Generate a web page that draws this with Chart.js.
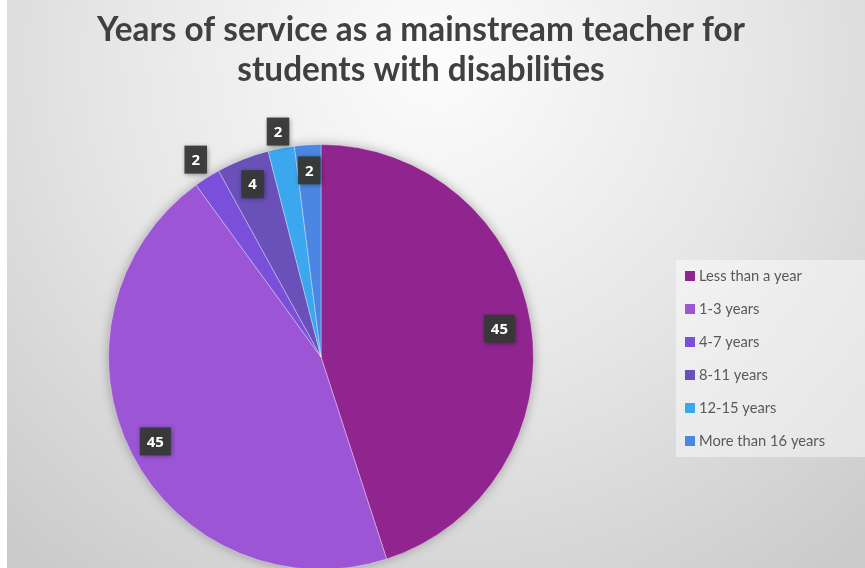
<!DOCTYPE html>
<html>
<head>
<meta charset="utf-8">
<script src="https://cdn.jsdelivr.net/npm/chart.js@4.4.1/dist/chart.umd.min.js"></script>
<style>
  html, body { margin: 0; padding: 0; background: #fff; overflow: hidden; }
  #wrap { position: absolute; left: 7px; top: 0; width: 858px; height: 580px; }
</style>
</head>
<body>
<div id="wrap"><canvas id="graficoAnos"></canvas></div>
<script>
const categorias = ['Less than a year', '1-3 years', '4-7 years', '8-11 years', '12-15 years', 'More than 16 years'];
const valores = [45, 45, 2, 4, 2, 2];
const cores = ['#912590', '#9b55d5', '#7a4fda', '#6a51b9', '#3ba7ee', '#4b87e2'];
const titulo = ['Years of service as a mainstream teacher for', 'students with disabilities'];
// distance of each value label from the centre, as a share of the radius
const posRotulo = [0.85, 0.875, 1.1, 0.875, 1.08, 0.88];

// Fundo com degradê
const fundo = {
    id: 'fundo',
    beforeDraw(chart) {
        const ctx = chart.ctx;
        const w = chart.width, h = chart.height;
        const g = ctx.createRadialGradient(w * 0.5, 60, 20, w * 0.5, 60, 640);
        g.addColorStop(0, '#fbfbfb');
        g.addColorStop(0.5, '#e6e6e6');
        g.addColorStop(1, '#cbcbcb');
        ctx.save();
        ctx.fillStyle = g;
        ctx.fillRect(0, 0, w, h);
        ctx.restore();
    }
};

// Sombra por baixo da pizza
const sombra = {
    id: 'sombra',
    beforeDatasetsDraw(chart) {
        const arc = chart.getDatasetMeta(0).data[0];
        if (!arc) return;
        const ctx = chart.ctx;
        ctx.save();
        ctx.shadowColor = 'rgba(0,0,0,0.35)';
        ctx.shadowBlur = 12;
        ctx.fillStyle = '#bbb';
        ctx.beginPath();
        ctx.arc(arc.x, arc.y, arc.outerRadius - 1, 0, Math.PI * 2);
        ctx.fill();
        ctx.restore();
    }
};

// texto comprimido na horizontal (fator k)
function textoEstreito(ctx, txt, x, y, k) {
    ctx.save();
    ctx.translate(x, y);
    ctx.scale(k, 1);
    ctx.fillText(txt, 0, 0);
    ctx.restore();
}

// Título, rótulos de valor e legenda
const textos = {
    id: 'textos',
    afterDatasetsDraw(chart) {
        const ctx = chart.ctx;
        const meta = chart.getDatasetMeta(0);
        ctx.save();

        // title
        ctx.fillStyle = '#404040';
        ctx.textAlign = 'center';
        ctx.textBaseline = 'alphabetic';
        ctx.font = 'bold 34px Lato, "Open Sans", sans-serif';
        const k = 648 / ctx.measureText(titulo[0]).width;
        textoEstreito(ctx, titulo[0], 414, 41, k);
        textoEstreito(ctx, titulo[1], 414, 81, k);

        // value labels
        ctx.font = 'bold 15px "Open Sans", sans-serif';
        ctx.textBaseline = 'middle';
        meta.data.forEach((arc, i) => {
            const mid = (arc.startAngle + arc.endAngle) / 2;
            const r = arc.outerRadius * posRotulo[i];
            const x = arc.x + Math.cos(mid) * r;
            const y = arc.y + Math.sin(mid) * r;
            const txt = String(valores[i]);
            const bw = ctx.measureText(txt).width + 14;
            const bh = 28;
            ctx.save();
            ctx.shadowColor = 'rgba(0,0,0,0.45)';
            ctx.shadowBlur = 5;
            ctx.shadowOffsetX = 1;
            ctx.shadowOffsetY = 1;
            ctx.fillStyle = 'rgba(55,57,55,0.95)';
            ctx.fillRect(x - bw / 2, y - bh / 2, bw, bh);
            ctx.restore();
            ctx.fillStyle = '#ffffff';
            ctx.fillText(txt, x, y + 1);
        });

        // legend
        ctx.fillStyle = 'rgba(255,255,255,0.45)';
        ctx.fillRect(669, 260, chart.width - 669, 197);
        ctx.font = '15px Lato, "Open Sans", sans-serif';
        ctx.textAlign = 'left';
        ctx.textBaseline = 'middle';
        categorias.forEach((c, i) => {
            const y = 276 + i * 33;
            ctx.fillStyle = cores[i];
            ctx.fillRect(678, y - 5, 10, 10);
            ctx.fillStyle = '#595959';
            textoEstreito(ctx, c, 692, y, 0.98);
        });
        ctx.restore();
    }
};

const ctx1 = document.getElementById('graficoAnos').getContext('2d');
const graficoAnos = new Chart(ctx1, {
    type: 'pie',
    data: {
        labels: categorias,
        datasets: [{
            data: valores,
            backgroundColor: cores,
            borderColor: 'rgba(255,255,255,0.35)',
            borderWidth: 1
        }]
    },
    options: {
        responsive: true,
        maintainAspectRatio: false,
        animation: false,
        layout: {
            padding: { left: 101, right: 331, top: 144, bottom: 10 }
        },
        plugins: {
            legend: { display: false },
            title: { display: false },
            tooltip: { enabled: false }
        }
    },
    plugins: [fundo, sombra, textos]
});
</script>
</body>
</html>
